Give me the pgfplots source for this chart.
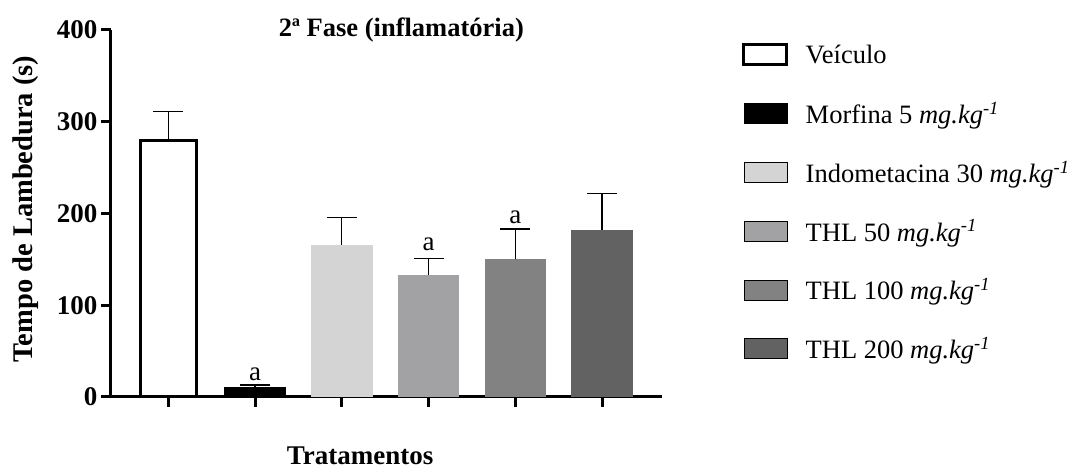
\documentclass[border=0pt]{standalone}
\usepackage{pgfplots}
\pgfplotsset{compat=1.18}
\usepackage{fontspec}
\setmainfont{Liberation Serif}
\definecolor{cIndo}{HTML}{D4D4D4}
\definecolor{cT50}{HTML}{A2A2A5}
\definecolor{cT100}{HTML}{828282}
\definecolor{cT200}{HTML}{626262}
\pgfplotsset{
  mybar/.style={bar shift=0pt,
    legend image code/.code={\draw[##1] (0pt,-10pt) rectangle (43pt,10pt); \path[draw=none,fill=none] (0pt,0pt) -- (62pt,0pt);},
    error bars/y dir=plus, error bars/y explicit,
    error bars/error bar style={line width=1.3pt, black, solid},
    error bars/error mark options={rotate=90, mark size=15pt, line width=1.3pt, black, solid}}
}
\begin{document}
\begin{tikzpicture}
\begin{axis}[
  scale only axis, width=551pt, height=367pt,
  xmin=-0.66, xmax=5.69, ymin=0, ymax=400,
  ybar, bar width=0.71,
  axis x line*=bottom, axis y line*=left,
  axis line style={line width=3pt, -},
  xtick={0,1,2,3,4,5}, xticklabels={},
  ytick={0,100,200,300,400},
  tick align=outside, major tick length=10pt,
  tick style={line width=3pt, black},
  /pgf/number format/assume math mode=true,
  yticklabel style={font=\fontsize{27}{30}\selectfont\bfseries},
  ylabel={Tempo de Lambedura (s)},
  ylabel style={font=\fontsize{28.5}{32}\selectfont\bfseries, at={(axis description cs:0,0.512)}, anchor=north, inner sep=0pt, yshift=98pt},
  xlabel={Tratamentos},
  xlabel style={font=\fontsize{27}{30}\selectfont\bfseries, at={(axis description cs:0.452,0)}, anchor=north, inner sep=0pt, yshift=-50pt},
  legend style={at={(axis description cs:1,1)}, anchor=north west, xshift=80pt, yshift=-13pt, draw=none, fill=none,
    inner sep=0pt, nodes={inner sep=0pt}, column sep=0pt,
    font=\fontsize{26.5}{30}\selectfont, row sep=36pt},
  legend cell align=left,
  clip=false,
]
\addplot[mybar, bar width=0.64, fill=white, draw=black, line width=3pt] coordinates {(0,280) +- (0,31)};
\addlegendentry{Veículo}
\addplot[mybar, fill=black, draw=none] coordinates {(1,10.5) +- (0,2.5)};
\addlegendentry{Morfina 5 \textit{mg.kg}\textsuperscript{\textit{-1}}}
\addplot[mybar, fill=cIndo, draw=none] coordinates {(2,166) +- (0,30)};
\addlegendentry{Indometacina 30 \textit{mg.kg}\textsuperscript{\textit{-1}}}
\addplot[mybar, fill=cT50, draw=none] coordinates {(3,133) +- (0,18)};
\addlegendentry{THL 50 \textit{mg.kg}\textsuperscript{\textit{-1}}}
\addplot[mybar, fill=cT100, draw=none] coordinates {(4,150) +- (0,33)};
\addlegendentry{THL 100 \textit{mg.kg}\textsuperscript{\textit{-1}}}
\addplot[mybar, fill=cT200, draw=none] coordinates {(5,182) +- (0,40)};
\addlegendentry{THL 200 \textit{mg.kg}\textsuperscript{\textit{-1}}}
\node[font=\fontsize{27}{30}\selectfont, anchor=base, inner sep=0pt] at (axis cs:1,18.5) {a};
\node[font=\fontsize{27}{30}\selectfont, anchor=base, inner sep=0pt] at (axis cs:3,160) {a};
\node[font=\fontsize{27}{30}\selectfont, anchor=base, inner sep=0pt] at (axis cs:4,189) {a};
\node[font=\fontsize{26.5}{30}\selectfont\bfseries, anchor=center, inner sep=0pt] at (rel axis cs:0.527,1) {2ª Fase (inflamatória)};
\end{axis}
\pgfresetboundingbox
\path (current axis.south west) ++(-111pt,-73pt) rectangle ++(1079pt,470pt);
\end{tikzpicture}
\end{document}
